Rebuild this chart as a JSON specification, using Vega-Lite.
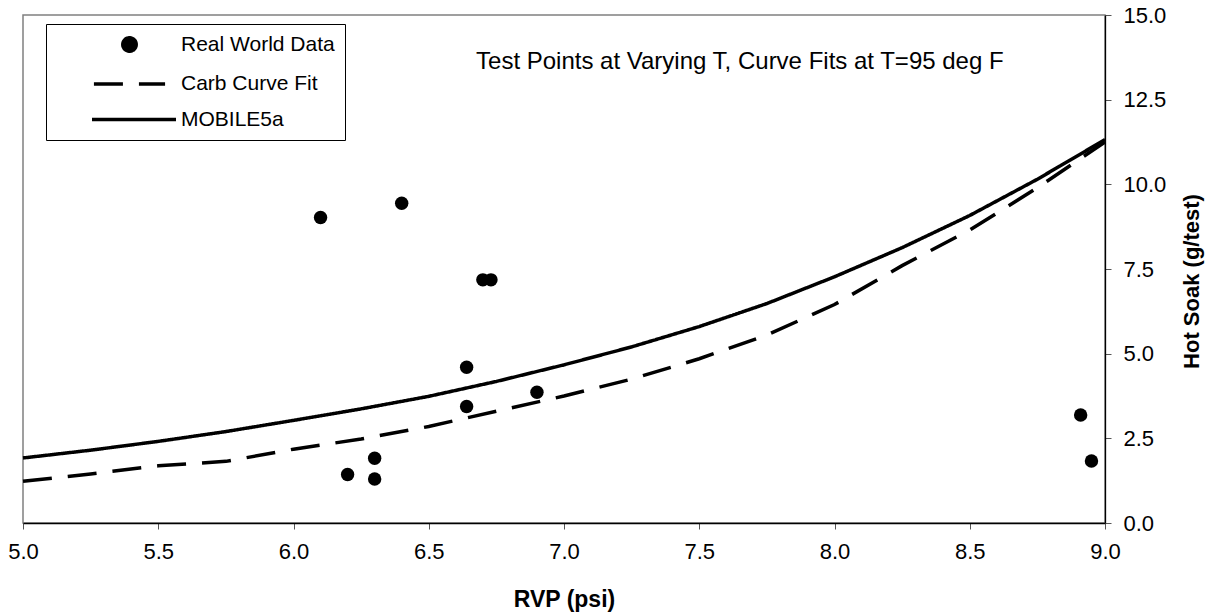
{
  "$schema": "https://vega.github.io/schema/vega-lite/v6.json",
  "width": 1082,
  "height": 508,
  "autosize": {"type": "none"},
  "padding": {"left": 23, "top": 15, "right": 107, "bottom": 93},
  "background": "white",
  "config": {
    "font": "Liberation Sans",
    "view": {"stroke": "#808080", "strokeWidth": 1.5},
    "legend": {
      "orient": "none",
      "legendX": 23,
      "legendY": 9,
      "strokeColor": "black",
      "fillColor": "white",
      "padding": 10,
      "labelFontSize": 21,
      "labelFont": "Liberation Sans",
      "labelColor": "black",
      "labelLimit": 400,
      "rowPadding": 13.5,
      "symbolOffset": 63,
      "labelOffset": 41,
      "symbolStrokeWidth": 3.5,
      "symbolFillColor": "black",
      "symbolStrokeColor": "black"
    }
  },
  "datasets": {
    "points": [
      {"rvp": 6.10, "hs": 9.02, "series": "Real World Data"},
      {"rvp": 6.40, "hs": 9.44, "series": "Real World Data"},
      {"rvp": 6.70, "hs": 7.18, "series": "Real World Data"},
      {"rvp": 6.73, "hs": 7.18, "series": "Real World Data"},
      {"rvp": 6.64, "hs": 4.60, "series": "Real World Data"},
      {"rvp": 6.64, "hs": 3.44, "series": "Real World Data"},
      {"rvp": 6.90, "hs": 3.86, "series": "Real World Data"},
      {"rvp": 6.20, "hs": 1.43, "series": "Real World Data"},
      {"rvp": 6.30, "hs": 1.91, "series": "Real World Data"},
      {"rvp": 6.30, "hs": 1.30, "series": "Real World Data"},
      {"rvp": 8.91, "hs": 3.19, "series": "Real World Data"},
      {"rvp": 8.95, "hs": 1.83, "series": "Real World Data"}
    ],
    "curves": [
      {"rvp": 5.00, "hs": 1.23, "series": "Carb Curve Fit"},
      {"rvp": 5.25, "hs": 1.45, "series": "Carb Curve Fit"},
      {"rvp": 5.50, "hs": 1.69, "series": "Carb Curve Fit"},
      {"rvp": 5.75, "hs": 1.82, "series": "Carb Curve Fit"},
      {"rvp": 6.00, "hs": 2.18, "series": "Carb Curve Fit"},
      {"rvp": 6.25, "hs": 2.48, "series": "Carb Curve Fit"},
      {"rvp": 6.50, "hs": 2.85, "series": "Carb Curve Fit"},
      {"rvp": 6.75, "hs": 3.30, "series": "Carb Curve Fit"},
      {"rvp": 7.00, "hs": 3.75, "series": "Carb Curve Fit"},
      {"rvp": 7.25, "hs": 4.25, "series": "Carb Curve Fit"},
      {"rvp": 7.50, "hs": 4.85, "series": "Carb Curve Fit"},
      {"rvp": 7.75, "hs": 5.55, "series": "Carb Curve Fit"},
      {"rvp": 8.00, "hs": 6.45, "series": "Carb Curve Fit"},
      {"rvp": 8.25, "hs": 7.60, "series": "Carb Curve Fit"},
      {"rvp": 8.50, "hs": 8.65, "series": "Carb Curve Fit"},
      {"rvp": 8.75, "hs": 9.90, "series": "Carb Curve Fit"},
      {"rvp": 9.00, "hs": 11.25, "series": "Carb Curve Fit"},
      {"rvp": 5.00, "hs": 1.92, "series": "MOBILE5a"},
      {"rvp": 5.25, "hs": 2.15, "series": "MOBILE5a"},
      {"rvp": 5.50, "hs": 2.41, "series": "MOBILE5a"},
      {"rvp": 5.75, "hs": 2.70, "series": "MOBILE5a"},
      {"rvp": 6.00, "hs": 3.03, "series": "MOBILE5a"},
      {"rvp": 6.25, "hs": 3.37, "series": "MOBILE5a"},
      {"rvp": 6.50, "hs": 3.74, "series": "MOBILE5a"},
      {"rvp": 6.75, "hs": 4.18, "series": "MOBILE5a"},
      {"rvp": 7.00, "hs": 4.67, "series": "MOBILE5a"},
      {"rvp": 7.25, "hs": 5.20, "series": "MOBILE5a"},
      {"rvp": 7.50, "hs": 5.80, "series": "MOBILE5a"},
      {"rvp": 7.75, "hs": 6.48, "series": "MOBILE5a"},
      {"rvp": 8.00, "hs": 7.27, "series": "MOBILE5a"},
      {"rvp": 8.25, "hs": 8.13, "series": "MOBILE5a"},
      {"rvp": 8.50, "hs": 9.08, "series": "MOBILE5a"},
      {"rvp": 8.75, "hs": 10.15, "series": "MOBILE5a"},
      {"rvp": 9.00, "hs": 11.32, "series": "MOBILE5a"}
    ],
    "notes": [
      {"note": "Test Points at Varying T, Curve Fits at T=95 deg F"}
    ]
  },
  "layer": [
    {
      "data": {"name": "curves"},
      "mark": {"type": "line", "strokeCap": "butt", "strokeWidth": 3.5},
      "encoding": {
        "x": {
          "field": "rvp",
          "type": "quantitative",
          "scale": {"domain": [5, 9], "nice": false, "zero": false},
          "axis": {
            "values": [5, 5.5, 6, 6.5, 7, 7.5, 8, 8.5, 9],
            "format": ".1f",
            "grid": false,
            "labelFlush": false,
            "labelOverlap": false,
            "labelFontSize": 22,
            "labelColor": "black",
            "labelPadding": 12,
            "domainColor": "black",
            "domainWidth": 1.3,
            "tickColor": "#555555",
            "tickSize": 6,
            "title": "RVP (psi)",
            "titleFontSize": 23,
            "titleFontWeight": "bold",
            "titleColor": "black",
            "titleY": 76,
            "titleBaseline": "middle"
          }
        },
        "y": {
          "field": "hs",
          "type": "quantitative",
          "scale": {"domain": [0, 15], "nice": false},
          "axis": {
            "orient": "right",
            "values": [0, 2.5, 5, 7.5, 10, 12.5, 15],
            "format": ".1f",
            "grid": false,
            "labelFontSize": 22,
            "labelColor": "black",
            "labelPadding": 12,
            "domainColor": "black",
            "domainWidth": 1.3,
            "tickColor": "#555555",
            "tickSize": 6,
            "title": "Hot Soak (g/test)",
            "titleFontSize": 22,
            "titleFontWeight": "bold",
            "titleColor": "black",
            "titleAngle": 270,
            "titleX": 86,
            "titleY": 266,
            "titleAlign": "center",
            "titleBaseline": "middle"
          }
        },
        "color": {
          "field": "series",
          "type": "nominal",
          "scale": {"domain": ["Real World Data", "Carb Curve Fit", "MOBILE5a"], "range": ["black", "black", "black"]},
          "legend": {"title": null, "labelExpr": "datum.label + '\u00a0\u00a0\u00a0\u00a0\u00a0\u00a0'"}
        },
        "strokeDash": {
          "field": "series",
          "type": "nominal",
          "scale": {"domain": ["Real World Data", "Carb Curve Fit", "MOBILE5a"], "range": [[1, 0], [29, 16], [1, 0]]},
          "legend": {"title": null, "labelExpr": "datum.label + '\u00a0\u00a0\u00a0\u00a0\u00a0\u00a0'"}
        }
      }
    },
    {
      "data": {"name": "points"},
      "mark": {"type": "point", "filled": true, "opacity": 1},
      "encoding": {
        "x": {"field": "rvp", "type": "quantitative"},
        "y": {"field": "hs", "type": "quantitative"},
        "color": {
          "field": "series",
          "type": "nominal",
          "scale": {"domain": ["Real World Data", "Carb Curve Fit", "MOBILE5a"], "range": ["black", "black", "black"]},
          "legend": {"title": null, "labelExpr": "datum.label + '\u00a0\u00a0\u00a0\u00a0\u00a0\u00a0'"}
        },
        "shape": {
          "field": "series",
          "type": "nominal",
          "scale": {"domain": ["Real World Data", "Carb Curve Fit", "MOBILE5a"], "range": ["circle", "M-5,0H5", "M-5,0H6.2"]},
          "legend": {"title": null, "labelExpr": "datum.label + '\u00a0\u00a0\u00a0\u00a0\u00a0\u00a0'"}
        },
        "size": {
          "field": "series",
          "type": "nominal",
          "scale": {"domain": ["Real World Data", "Carb Curve Fit", "MOBILE5a"], "range": [180, 225, 225]},
          "legend": {"title": null, "labelExpr": "datum.label + '\u00a0\u00a0\u00a0\u00a0\u00a0\u00a0'"}
        }
      }
    },
    {
      "data": {"name": "notes"},
      "mark": {"type": "text", "fontSize": 24, "fill": "black", "align": "center", "baseline": "middle", "font": "Liberation Sans"},
      "encoding": {
        "x": {"datum": 7.65, "type": "quantitative"},
        "y": {"datum": 13.6, "type": "quantitative"},
        "text": {"field": "note", "type": "nominal"}
      }
    }
  ]
}
